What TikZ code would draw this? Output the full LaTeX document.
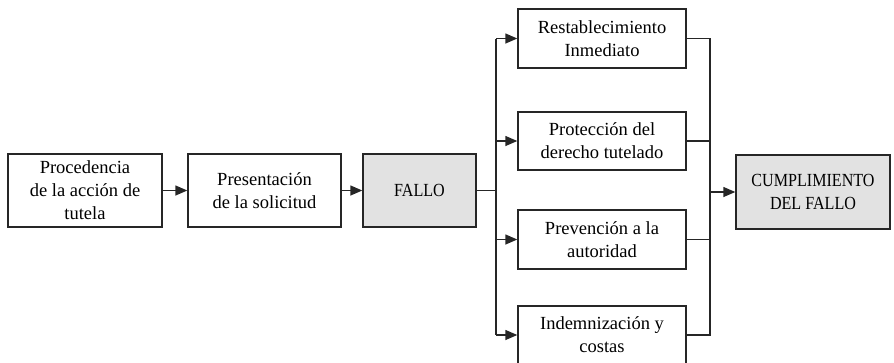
\documentclass[tikz,border=0pt]{standalone}
\usepackage{fontspec}
\setmainfont{Liberation Serif}
\usetikzlibrary{arrows.meta}
\definecolor{boxgray}{HTML}{E2E2E2}
\newcommand{\capsq}[1]{\scalebox{0.87}[1]{#1}}
\begin{document}
\begin{tikzpicture}[x=1pt,y=-1pt,
  every node/.style={font=\fontsize{18.5}{23}\selectfont},
  box/.style={draw=black!85, line width=1.4pt, align=center, inner sep=0pt},
  conn/.style={draw=black!85, line width=1.4pt},
  arr/.style={conn, -{Triangle[length=12pt,width=10pt]}}]
\useasboundingbox (0,0) rectangle (894,362);
\node[box, minimum width=154pt, minimum height=73pt] (a) at (85,190.5) {Procedencia\\de la acción de\\tutela};
\node[box, minimum width=153pt, minimum height=73pt] (b) at (264.5,190.5) {Presentación\\de la solicitud};
\node[box, fill=boxgray, minimum width=113pt, minimum height=73pt] (f) at (419.5,190.5) {\capsq{FALLO}};
\node[box, minimum width=168pt, minimum height=59pt] (r1) at (602,38.5) {Restablecimiento\\Inmediato};
\node[box, minimum width=168pt, minimum height=58pt] (r2) at (602,141) {Protección del\\derecho tutelado};
\node[box, minimum width=168pt, minimum height=59pt] (r3) at (602,239.5) {Prevención a la\\autoridad};
\node[box, minimum width=168pt, minimum height=58pt] (r4) at (602,335) {Indemnización y\\costas};
\node[box, fill=boxgray, minimum width=154pt, minimum height=74pt] (c) at (813,192) {\capsq{CUMPLIMIENTO}\\\capsq{DEL FALLO}};
\coordinate (lt) at (496,190.5);
\coordinate (rt) at (710,192);
\draw[arr] (a) -- (b);
\draw[arr] (b) -- (f);
\draw[conn] (f.east) -- (lt);
\draw[conn] (lt |- r1.west) -- (lt |- r4.west);
\draw[arr] (lt |- r1.west) -- (r1.west);
\draw[arr] (lt |- r2.west) -- (r2.west);
\draw[arr] (lt |- r3.west) -- (r3.west);
\draw[arr] (lt |- r4.west) -- (r4.west);
\draw[conn] (r1.east) -- (rt |- r1.east) -- (rt |- r4.east) -- (r4.east);
\draw[conn] (r2.east) -- (rt |- r2.east);
\draw[conn] (r3.east) -- (rt |- r3.east);
\draw[arr] (rt) -- (c.west);
\end{tikzpicture}
\end{document}
